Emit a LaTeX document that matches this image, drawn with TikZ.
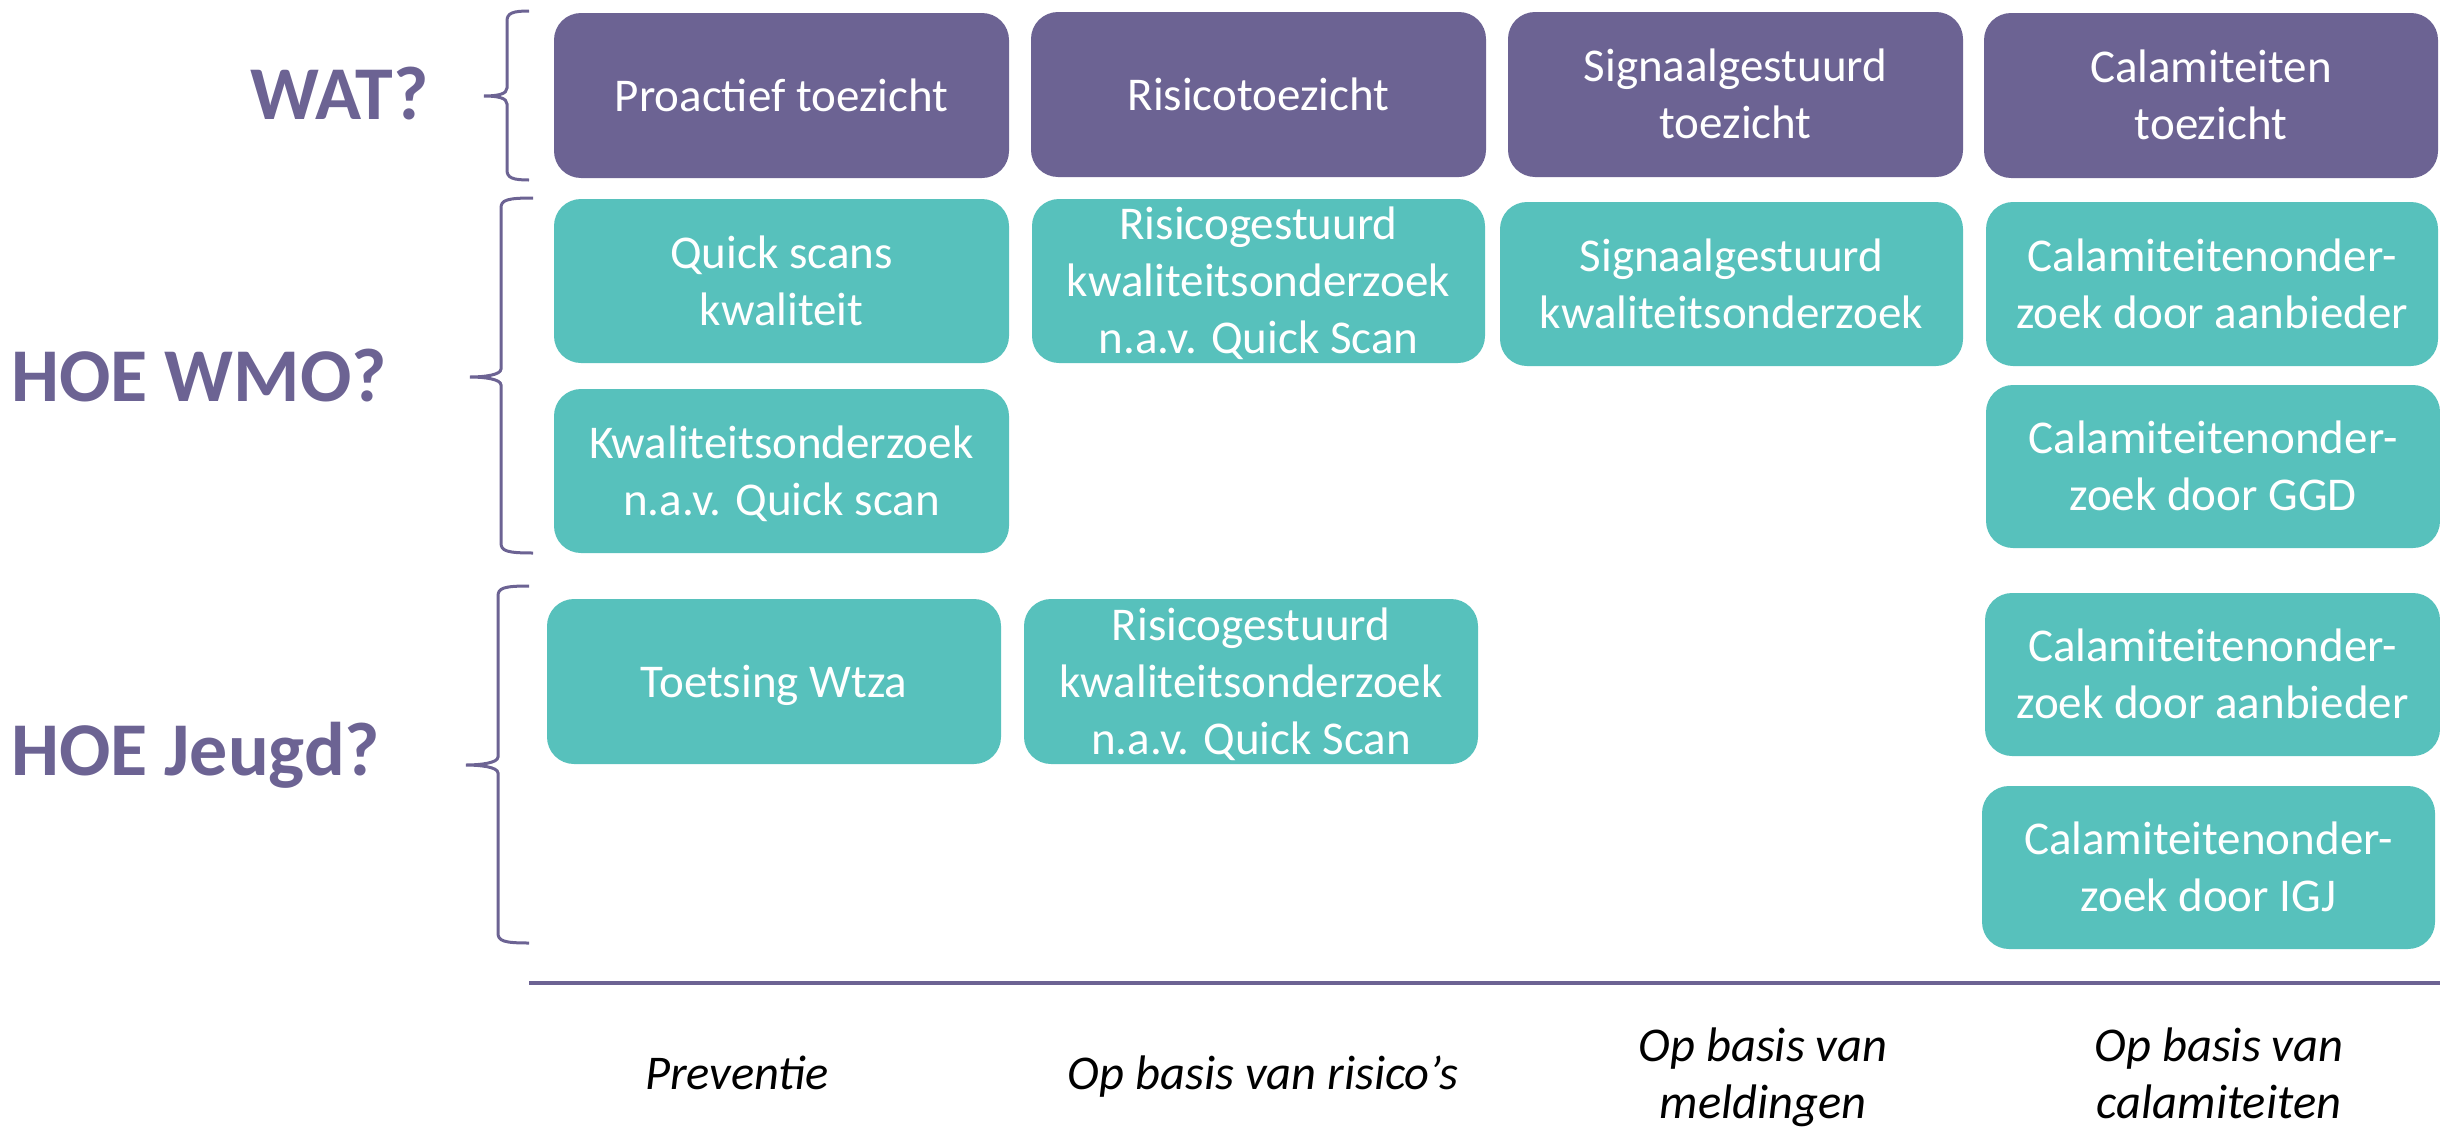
\documentclass[tikz,border=0pt]{standalone}
\usepackage{fontspec}
\setmainfont{Carlito}
\definecolor{wpurple}{RGB}{108,99,147}
\definecolor{wteal}{RGB}{87,193,188}
\newcommand\mystrut{\rule[-12.6pt]{0pt}{57pt}}
\newcommand\drawbrace[6]{%
 \draw[brace] (#1,#4) .. controls (#2+6,#4) and (#2,#4+2) .. (#2,#4+10)
   -- (#2,#5-8) .. controls (#2,#5-2) and (#3+14,#5) .. (#3,#5)
   .. controls (#3+14,#5) and (#2,#5+2) .. (#2,#5+8)
   -- (#2,#6-10) .. controls (#2,#6-2) and (#2+6,#6) .. (#1,#6);}
\begin{document}
\begin{tikzpicture}[x=1pt,y=-1pt,
  box/.style={rounded corners=27pt, minimum width=455pt, minimum height=165pt,
    inner xsep=0pt, inner ysep=-30pt, align=center, text=white,
    font=\fontsize{47}{57}\selectfont},
  pbox/.style={box, fill=wpurple},
  tbox/.style={box, fill=wteal},
  brace/.style={draw=wpurple, line width=3pt},
  qlabel/.style={text=wpurple, font=\fontsize{76}{90}\selectfont\bfseries, inner sep=0pt, anchor=base west},
  blabel/.style={font=\fontsize{48.5}{57}\selectfont\itshape, align=center, inner sep=0pt}]
\useasboundingbox (0,0) rectangle (2440,1127);
\clip (0,0) rectangle (2440,1127);

% row labels
\node[qlabel] (wat) at (250,119) {WAT?};
\node[qlabel] (wmo) at (11,401) {HOE WMO?};
\node[qlabel] (jeugd) at (11,775) {HOE Jeugd?};

% braces
\drawbrace{529}{507}{484}{11}{96}{180}
\drawbrace{533}{501}{470}{198}{377}{553}
\drawbrace{529}{498}{466}{586}{765}{943}

% WAT row
\node[pbox] (p1) at (781.5,95.5) {\mystrut Proactief toezicht};
\node[pbox] (p2) at (1258.5,94.5) {\mystrut Risicotoezicht};
\node[pbox] (p3) at (1735.5,94.5) {\mystrut Signaalgestuurd\\\mystrut toezicht};
\node[pbox, minimum width=454pt] (p4) at (2211,95.5) {\mystrut Calamiteiten\\\mystrut toezicht};

% HOE WMO
\node[tbox, minimum height=164pt] (t1) at (781.5,281) {\mystrut Quick scans\\\mystrut kwaliteit};
\node[tbox, minimum width=453pt, minimum height=164pt] (t2) at (1258.5,281) {\mystrut Risicogestuurd\\\mystrut kwaliteitsonderzoek\\\mystrut n.a.v. Quick Scan};
\node[tbox, minimum width=463pt, minimum height=164pt] (t3) at (1731.5,284) {\mystrut Signaalgestuurd\\\mystrut kwaliteitsonderzoek};
\node[tbox, minimum width=452pt, minimum height=164pt] (t4) at (2212,284) {\mystrut Calamiteitenonder-\\\mystrut zoek door aanbieder};
\node[tbox, minimum height=164pt] (t5) at (781.5,471) {\mystrut Kwaliteitsonderzoek\\\mystrut n.a.v. Quick scan};
\node[tbox, minimum width=454pt, minimum height=163pt] (t6) at (2213,466.5) {\mystrut Calamiteitenonder-\\\mystrut zoek door GGD};

% HOE Jeugd
\node[tbox, minimum width=454pt] (t7) at (774,681.5) {\mystrut Toetsing Wtza};
\node[tbox, minimum width=454pt] (t8) at (1251,681.5) {\mystrut Risicogestuurd\\\mystrut kwaliteitsonderzoek\\\mystrut n.a.v. Quick Scan};
\node[tbox, minimum height=163pt] (t9) at (2212.5,674.5) {\mystrut Calamiteitenonder-\\\mystrut zoek door aanbieder};
\node[tbox, minimum width=453pt, minimum height=163pt] (t10) at (2208.5,867.5) {\mystrut Calamiteitenonder-\\\mystrut zoek door IGJ};

% axis line
\coordinate (axL) at (529,983);
\coordinate (axR) at (2440,983);
\draw[wpurple, line width=3.5pt] (axL) -- (axR);

% bottom labels
\node[blabel] (b1) at (737,1074) {\mystrut Preventie};
\node[blabel] (b2) at (1263,1074) {\mystrut Op basis van risico’s};
\node[blabel] (b3) at (1763,1074) {\mystrut Op basis van\\\mystrut meldingen};
\node[blabel] (b4) at (2219,1074) {\mystrut Op basis van\\\mystrut calamiteiten};
\end{tikzpicture}
\end{document}
